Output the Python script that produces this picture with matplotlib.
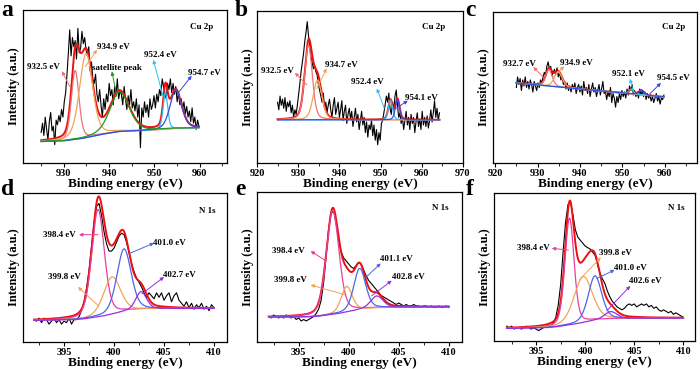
import numpy as np
import matplotlib
matplotlib.use("Agg")
import matplotlib.pyplot as plt
from matplotlib.ticker import MultipleLocator

plt.rcParams['font.family'] = ['Liberation Serif', 'DejaVu Serif']
plt.rcParams['font.weight'] = 'bold'

# ---------------- raw spectra (intensity, a.u.) ----------------
# Cu 2p, sample a: 925.0 -> 959.8 eV, 0.3 eV step
cu_a = [20, 26, 18, 30, 22, 15, 27, 33, 21, 24, 12, 28, 25, 31,
        27, 35, 30, 40, 46,
        58, 72, 87, 70, 82,
        76, 80, 68, 88, 72,
        75, 86, 78, 82, 74,
        70, 76, 60, 66, 55,
        52, 58, 45, 40, 48,
        38, 30, 42, 35, 45,
        40, 52, 44, 48, 38,
        50, 44, 55, 42, 47,
        45, 38, 50, 42, 35,
        44, 38, 48, 36, 40,
        34, 42, 30, 38, 10,
        36, 30, 40, 33, 38,
        30, 42, 35, 38, 44,
        36, 45, 40, 48, 44,
        55, 50, 45, 42, 52,
        48, 55, 46, 52, 45,
        50, 40, 46, 38, 42,
        35, 40, 32, 37, 30,
        34, 27, 36, 26, 30,
        22, 28, 24]
# Cu 2p, sample b: 925.0 -> 964.3 eV
cu_b = [40, 35, 44, 38, 42, 36, 43, 34, 40, 37, 41, 33, 38, 30, 35,
        32, 38, 45, 52, 60, 66, 72, 80, 86, 93, 84, 78, 70, 66, 62,
        64, 60, 58, 52, 48, 44, 40, 46, 36, 40, 33, 38, 42, 35, 30,
        38, 43, 32, 36, 40, 30, 35, 41, 28, 34, 38, 26, 32, 36, 29,
        34, 24, 30, 36, 27, 32, 22, 28, 34, 25, 30, 20, 27, 17, 25,
        22, 28, 18, 25, 15, 22, 12, 20, 15, 26, 28, 33, 38, 44, 40,
        46, 36, 32, 40, 35, 44, 48, 38, 30, 33, 26, 30, 22, 28, 34,
        25, 30, 22, 32, 26, 30, 20, 27, 33, 24, 29, 22, 34, 25, 30,
        24, 31, 23, 28, 35, 27, 33, 41, 30, 36, 28, 33]
# Cu 2p, sample c: 925.0 -> 959.8 eV
cu_c = [50, 57, 52, 56, 48, 55, 51, 57, 50, 54, 49, 55, 52, 47, 54,
        51, 48, 53, 50, 55, 53, 57, 60, 58, 64, 67, 62, 64, 58, 60,
        62, 59, 63, 57, 60, 55, 57, 52, 54, 49, 53, 48, 51, 47, 52,
        49, 53, 46, 50, 52, 47, 51, 45, 54, 48, 50, 46, 52, 44, 49,
        53, 47, 50, 44, 48, 52, 45, 49, 54, 46, 48, 42, 47, 44, 50,
        40, 46, 43, 37, 44, 40, 46, 42, 48, 44, 47, 43, 49, 45, 51,
        48, 52, 45, 48, 44, 47, 43, 49, 45, 48, 44, 47, 42, 46, 43,
        45, 41, 44, 40, 43, 46, 41, 44, 39, 43, 42, 45]
# N 1s: 392.0 -> 410.0 eV, 0.25 eV step
n_d = [15, 14, 16, 13, 16, 15, 12, 14, 16, 13, 15, 12, 14, 13, 16,
       12, 15, 15, 17, 21, 27, 36, 48, 64, 80, 91, 93, 85, 74, 66,
       61, 61, 63, 67, 71, 73, 72, 67, 60, 53, 47, 43, 40, 37, 33,
       30, 33, 31, 29, 33, 30, 33, 28, 31, 33, 27, 31, 33, 28, 26,
       24, 27, 23, 26, 22, 25, 23, 26, 22, 24, 21, 25, 23]
n_e = [17, 16, 18, 17, 16, 17, 16, 18, 17, 16, 17, 15, 16, 14, 15,
       14, 15, 16, 17, 19, 22, 28, 40, 58, 76, 86, 87, 79, 68, 60,
       56, 54, 52, 50, 49, 51, 53, 52, 48, 44, 41, 39, 37, 35, 33,
       31, 30, 29, 28, 27, 26, 25, 26, 25, 24, 25, 24, 24, 25, 24,
       24, 23, 24, 24, 23, 24, 23, 23, 24, 23, 23, 24, 23]
n_f = [10, 9, 10, 8, 9, 9, 8, 9, 10, 9, 8, 9, 8, 7, 8,
       9, 10, 11, 10, 12, 16, 24, 38, 60, 80, 92, 94, 85, 75, 70,
       68, 66, 64, 63, 62, 60, 58, 52, 46, 42, 39, 34, 30, 27, 25,
       23, 22, 21, 22, 24, 25, 24, 25, 23, 24, 25, 24, 25, 23, 24,
       22, 23, 21, 20, 21, 20, 19, 20, 18, 19, 18, 17, 16]

# ---------------- fitted peaks: centre (eV), height, FWHM ----------------
cu_a_peaks = [(932.5, 45, 2.0), (934.9, 55, 3.4), (952.4, 24, 1.2), (954.7, 25, 3.0), (942.3, 26, 5.0)]
cu_b_peaks = [(932.5, 49, 2.2), (934.7, 26, 2.5), (952.4, 13, 1.2), (954.1, 13.6, 1.2)]
cu_c_peaks = [(932.7, 11, 1.8), (934.9, 10, 2.2), (952.1, 3, 1.2), (954.5, 3, 1.5)]
n_d_peaks = [(398.4, 72, 1.5), (399.8, 25, 2.0), (401.0, 42, 1.7), (402.7, 12, 1.3)]
n_e_peaks = [(398.4, 69, 1.5), (399.8, 17, 1.3), (401.1, 27.5, 1.4), (402.8, 8, 1.5)]
n_f_peaks = [(398.4, 72, 1.1), (399.8, 31, 2.2), (401.0, 30, 1.6), (402.6, 5, 1.5)]

# Shirley-type backgrounds (knots)
cu_a_bg = ([925, 930, 934, 938, 942, 946, 950, 954, 960], [14, 14.5, 16, 18.5, 20.5, 21, 21.5, 22.5, 23])
cu_b_bg = ([925, 965], [28.4, 28.4])
cu_c_bg = ([925, 960], [53, 43.7])
n_d_bg = ([392, 396, 397, 399, 401, 403, 405, 410], [14.5, 15, 15.5, 17.5, 20.5, 22, 22.4, 22.5])
n_e_bg = ([392, 396, 397, 399, 401, 403, 405, 410], [16.6, 16.8, 17.2, 19, 21.5, 22.8, 23.2, 23.5])
n_f_bg = ([392, 396, 397, 399, 401, 403, 405, 410], [8.5, 9, 9.5, 11.5, 14, 15, 15.3, 15.5])

cu_a_labels = ['932.5 eV', '934.9 eV', '952.4 eV', '954.7 eV', 'satellite peak']
cu_b_labels = ['932.5 eV', '934.7 eV', '952.4 eV', '954.1 eV']
cu_c_labels = ['932.7 eV', '934.9 eV', '952.1 eV', '954.5 eV']
n_d_labels = ['398.4 eV', '399.8 eV', '401.0 eV', '402.7 eV']
n_e_labels = ['398.4 eV', '399.8 eV', '401.1 eV', '402.8 eV']
n_f_labels = ['398.4 eV', '399.8 eV', '401.0 eV', '402.6 eV']

# colours
cu_cols = ['#f07272', '#f2a35a', '#2ec0f0', '#3b48e0', '#1f9a1f']
n_cols = ['#e83e9c', '#f2a35a', '#4a68e6', '#9a2ee0']
red = '#ee1010'


def pv(x, c, h, w, eta=0.3):
    t = (x - c) / (w / 2)
    return h * (eta / (1 + t ** 2) + (1 - eta) * np.exp(-np.log(2) * t ** 2))


def panel(rect, x0, x1, step, y, peaks, bg, cols, labels, lab_pos, arrows,
          xlim, major, tag, tag_pos, elem, elem_pos):
    ax = fig.add_axes(rect)
    x = np.linspace(x0, x1, len(y))
    ax.plot(x, y, color='black', lw=0.8, zorder=2)
    xf = np.linspace(x0, x1, 500)
    base = np.interp(xf, bg[0], bg[1])
    env = base + sum(pv(xf, *p) for p in peaks)
    ax.plot(xf, env, color=red, lw=1.4, zorder=3)
    for p, c in zip(peaks, cols):
        ax.plot(xf, base + pv(xf, *p), color=c, lw=0.9, zorder=4)
    for lab, (tx, ty), (ax0, ay0, ax1, ay1), c in zip(labels, lab_pos, arrows, cols):
        ax.text(tx, ty, lab, fontsize=6.5, fontweight='bold', ha='center', va='center')
        ax.annotate('', xy=(ax1, ay1), xytext=(ax0, ay0),
                    arrowprops=dict(arrowstyle='-|>', color=c, lw=0.7,
                                    mutation_scale=5, shrinkA=0, shrinkB=0))
    ax.text(elem_pos[0], elem_pos[1], elem, fontsize=6.5, fontweight='bold',
            ha='center', va='center')
    ax.set_xlim(*xlim)
    ax.set_ylim(0, 100)
    ax.set_yticks([])
    ax.xaxis.set_major_locator(MultipleLocator(major))
    ax.xaxis.set_minor_locator(MultipleLocator(major / 2))
    ax.tick_params(axis='x', which='major', direction='out', length=3, width=0.8,
                   labelsize=7.5, pad=1.5)
    ax.tick_params(axis='x', which='minor', direction='out', length=2, width=0.6)
    for lbl in ax.get_xticklabels():
        lbl.set_fontweight('bold')
    for s in ax.spines.values():
        s.set_linewidth(0.9)
    ax.set_xlabel('Binding energy (eV)', fontsize=9.5, fontweight='bold', labelpad=0)
    ax.set_ylabel('Intensity (a.u.)', fontsize=9, fontweight='bold', labelpad=2)
    fig.text(tag_pos[0], tag_pos[1], tag, fontsize=17, fontweight='bold',
             ha='left', va='top')
    return ax


fig = plt.figure(figsize=(7, 3.69), dpi=100)

panel([0.0329, 0.5583, 0.2914, 0.4146], 925.0, 959.8, 0.3, cu_a, cu_a_peaks, cu_a_bg,
      cu_cols, cu_a_labels,
      [(925.6, 63), (941.0, 76), (951.2, 70.7), (960.9, 59), (941.7, 62)],
      [(931.3, 50, 929.6, 60), (934.75, 63, 937.3, 74), (951.9, 43.5, 949.75, 67.4),
       (955.2, 45.7, 958.2, 57), (941.7, 43.5, 940.6, 59.8)],
      (921, 966), 10, 'a', (0.002, 1.0), 'Cu 2p', (960.4, 89))

panel([0.3671, 0.5583, 0.2943, 0.4119], 925.0, 964.3, 0.3, cu_b, cu_b_peaks, cu_b_bg,
      cu_cols, cu_b_labels,
      [(925.0, 60.5), (940.5, 64.4), (946.9, 53.5), (960.0, 42.6)],
      [(932.15, 51.3, 929.2, 59.4), (934.5, 49, 936.9, 62.2), (950.9, 36, 949.1, 49.1),
       (953.8, 36, 956.6, 41)],
      (920, 970), 10, 'b', (0.336, 1.0), 'Cu 2p', (962.8, 89.5))

panel([0.7043, 0.5583, 0.2914, 0.4092], 925.0, 959.8, 0.3, cu_c, cu_c_peaks, cu_c_bg,
      cu_cols, cu_c_labels,
      [(925.8, 65.8), (939.2, 66.2), (951.4, 58.7), (962.0, 56.5)],
      [(931.3, 57, 929.0, 63.6), (933.5, 56.5, 936.3, 64), (952.5, 48.1, 951.8, 55.8),
       (956.5, 45.9, 959.1, 53)],
      (919.5, 967.6), 10, 'c', (0.665, 1.0), 'Cu 2p', (962.0, 90))

panel([0.0329, 0.0732, 0.2914, 0.4038], 392.0, 410.0, 0.25, n_d, n_d_peaks, n_d_bg,
      n_cols, n_d_labels,
      [(394.5, 72), (395.0, 43.6), (405.5, 66.4), (406.5, 45.2)],
      [(398.4, 72, 396.5, 72), (398.5, 24, 396.4, 36.9), (401.5, 59.3, 404.0, 66.4),
       (402.8, 32.4, 405.0, 43.6)],
      (390.9, 411.3), 5, 'd', (0.002, 0.515), 'N 1s', (409.3, 87.7))

panel([0.3667, 0.0732, 0.2929, 0.4065], 392.0, 410.0, 0.25, n_e, n_e_peaks, n_e_bg,
      n_cols, n_e_labels,
      [(394.0, 60.6), (394.2, 41), (404.8, 55.3), (406.0, 43.1)],
      [(397.7, 54.2, 396.2, 60.6), (399.7, 31.4, 396.2, 38), (401.8, 43.6, 403.2, 52.4),
       (402.3, 30.8, 404.3, 40.9)],
      (390.8, 411.3), 5, 'e', (0.336, 0.515), 'N 1s', (409.2, 89))

panel([0.7057, 0.0759, 0.2871, 0.4019], 392.0, 410.0, 0.25, n_f, n_f_peaks, n_f_bg,
      n_cols, n_f_labels,
      [(394.7, 62.5), (403.1, 59.6), (404.6, 49), (406.1, 40.7)],
      [(398.3, 61.3, 396.6, 62.5), (399.4, 41.1, 401.6, 56.4), (401.2, 42.2, 403.0, 47.9),
       (402.2, 20.4, 404.6, 37.1)],
      (390.7, 411.2), 5, 'f', (0.665, 0.515), 'N 1s', (409.3, 89.4))

fig.savefig('out.png', dpi=100)
